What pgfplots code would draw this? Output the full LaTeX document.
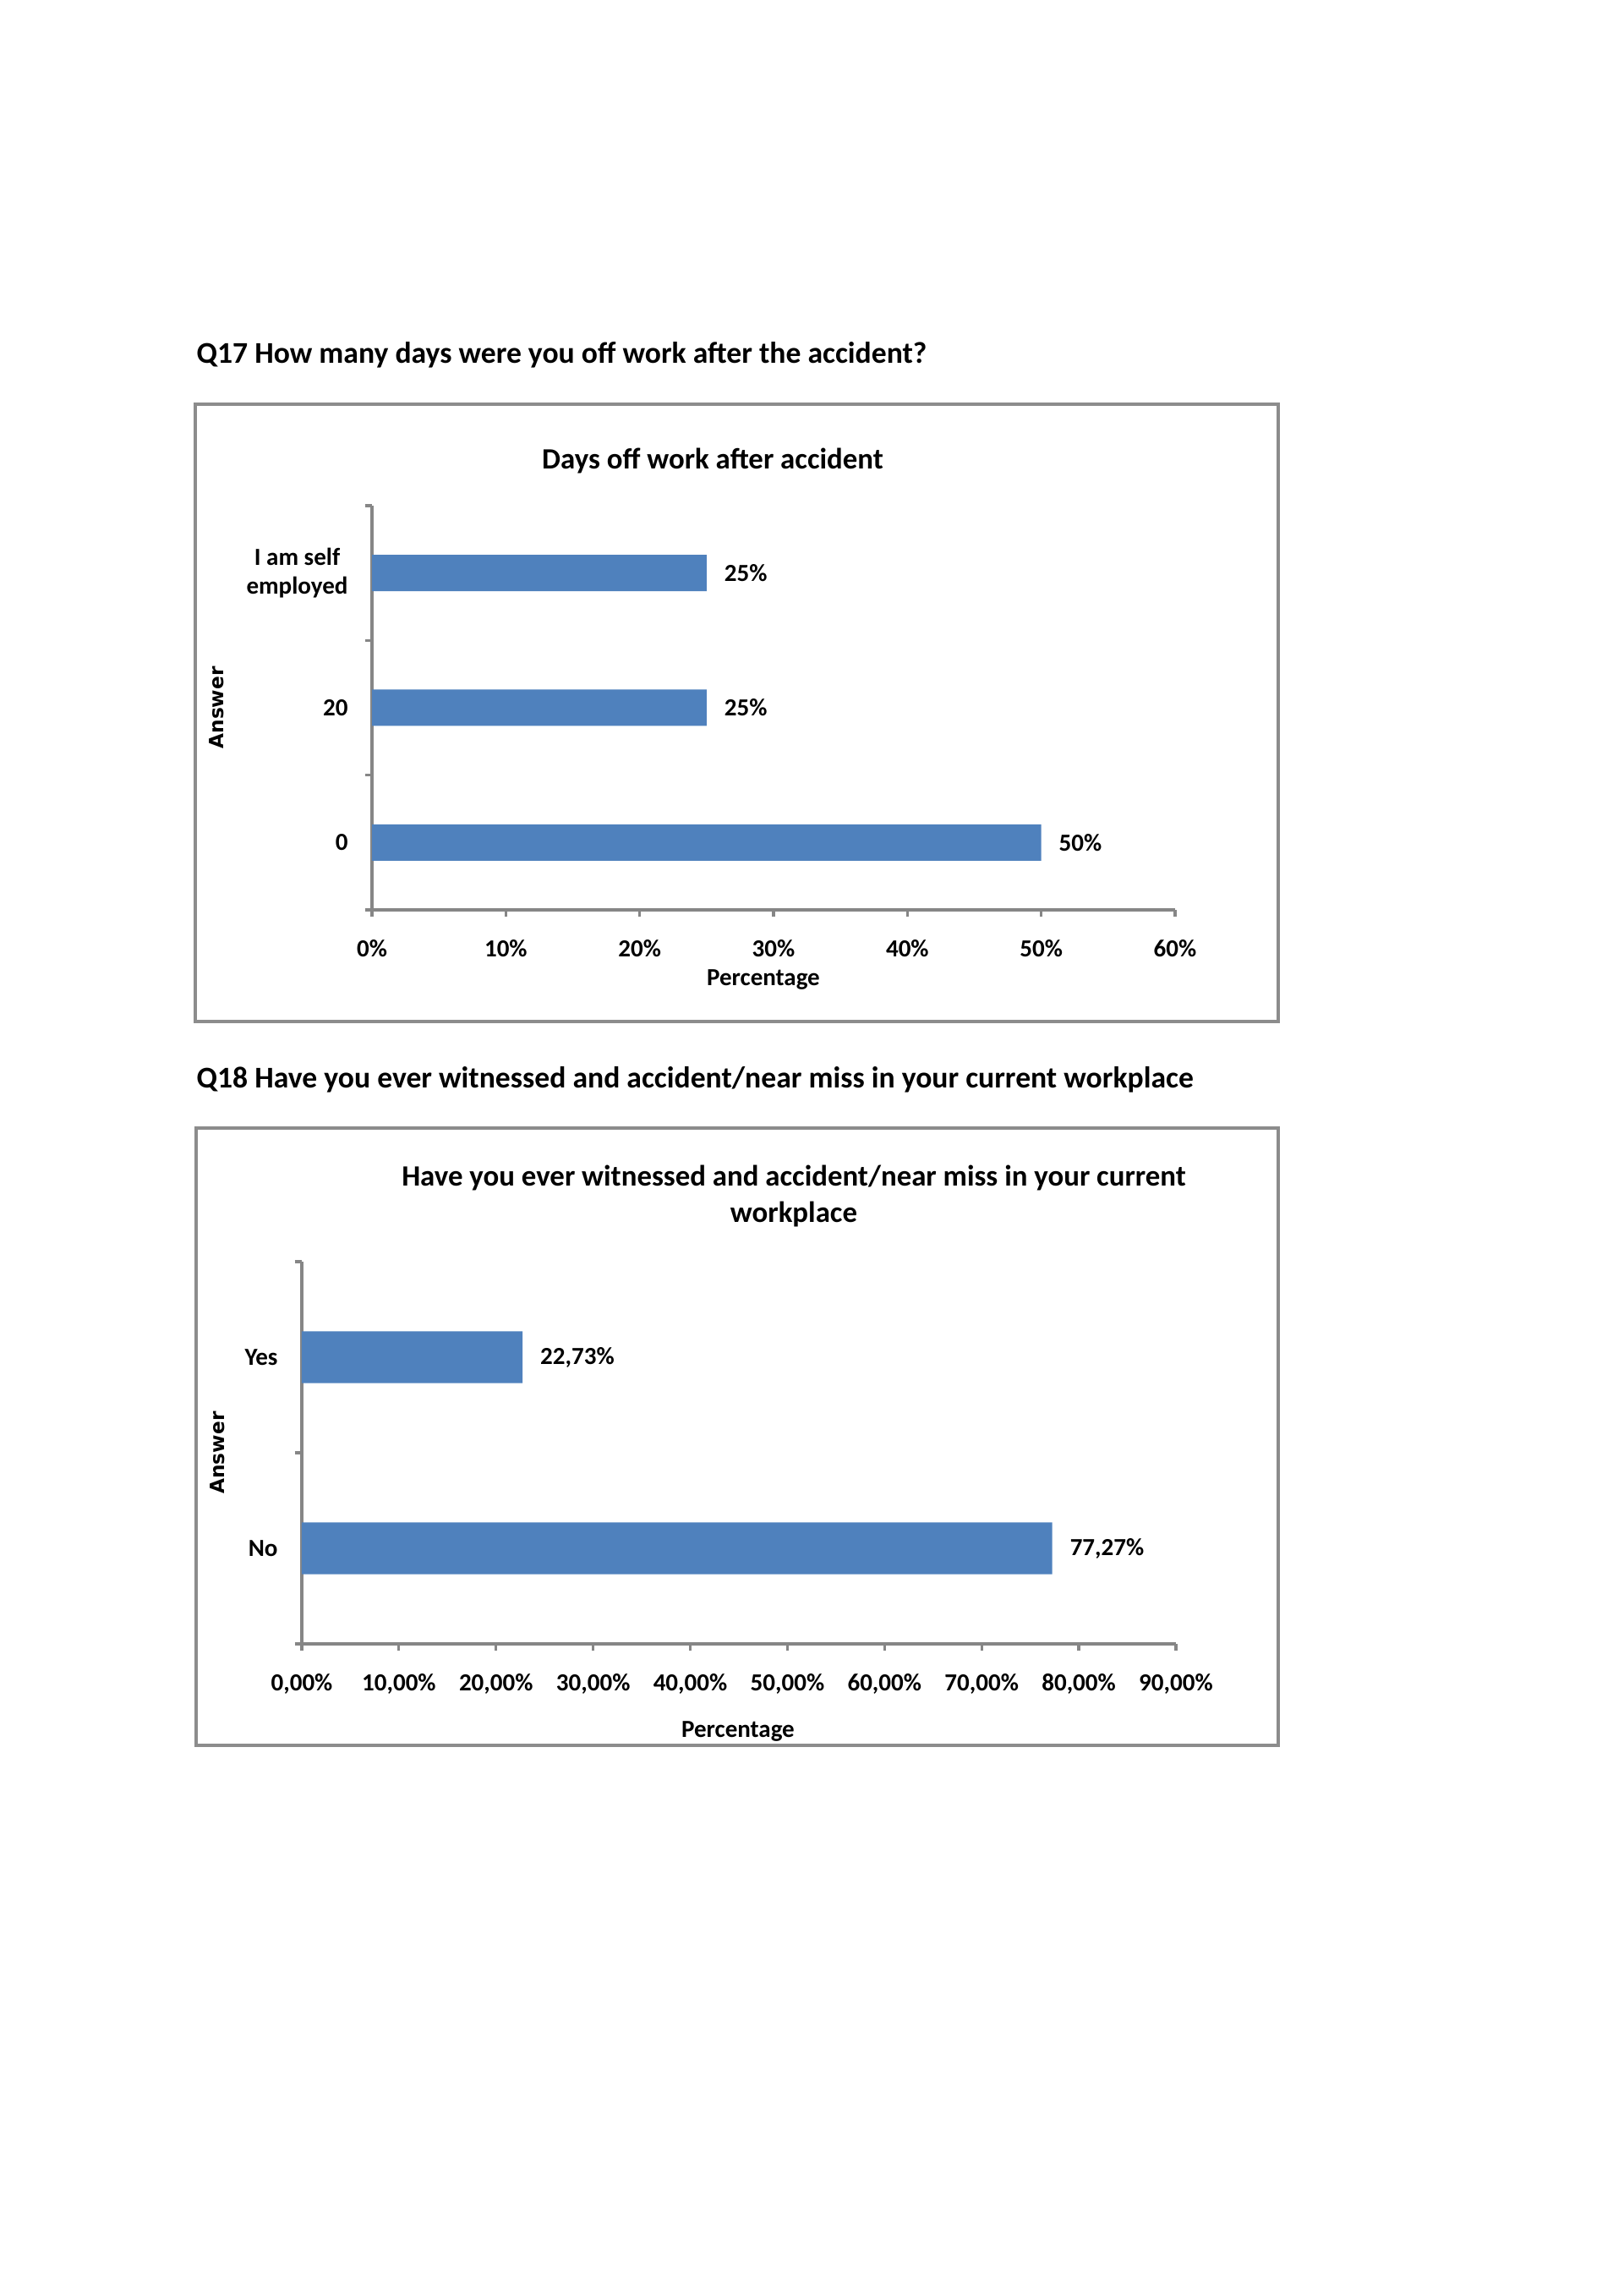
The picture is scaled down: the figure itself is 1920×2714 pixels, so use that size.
\documentclass[border=0pt]{standalone}
\usepackage{fontspec}
\setmainfont{Carlito}
\newfontfamily\dejavu{DejaVu Sans}
\usepackage{pgfplots}
\pgfplotsset{compat=1.18}
\definecolor{barblue}{RGB}{79,129,189}
\definecolor{axgray}{RGB}{134,134,134}
\definecolor{framegray}{RGB}{140,140,140}
\newcommand{\tickfont}{\fontsize{9}{10.8}\selectfont\bfseries}
\pgfplotsset{
  excelbar/.style={
    scale only axis,
    xbar, bar width=0.27,
    axis lines*=left,
    axis line style={axgray, line width=1pt},
    tick align=outside,
    major tick length=2.6pt,
    tick style={axgray, line width=1pt},
    xtick pos=left, ytick pos=left,
    ticklabel style={font=\tickfont, text=black},
    xticklabel style={yshift=-5pt},
    yticklabel style={align=center, xshift=-5.3pt},
    yticklabels={},
    extra y tick style={major tick length=0pt},
    nodes near coords,
    nodes near coords align=horizontal,
    point meta=explicit symbolic,
    every node near coord/.append style={font=\tickfont, text=black, anchor=west, xshift=3pt},
    xmin=0,
    clip=false,
  }
}
\begin{document}
\begin{tikzpicture}[x=0.3100417pt, y=-0.3100417pt]
\path[use as bounding box] (0,0) rectangle (1920,2714);

% ---------- Q17 ----------
\node[anchor=base west, inner sep=0pt, font=\fontsize{11.05}{13.2}\selectfont\bfseries] at (232,430)
  {Q17 How many days were you off work after the accident?};
\draw[framegray, line width=1pt] (231,478) rectangle (1512,1208);
\node[anchor=base, inner sep=0pt, font=\fontsize{10.8}{13}\selectfont\bfseries] at (843,555)
  {Days off work after accident};

\begin{axis}[excelbar,
  at={(136.42pt,-333.60pt)}, anchor=south west,
  width=294.54pt, height=148.20pt,
  xmax=60, ymin=-0.5, ymax=2.5,
  xtick={0,10,20,30,40,50,60},
  xticklabels={0\%,10\%,20\%,30\%,40\%,50\%,60\%},
  ytick={-0.5,0.5,1.5,2.5},
  extra y ticks={0,1,2},
  extra y tick labels={0,20,{I am self\\employed}},
]
\addplot[fill=barblue, draw=none] coordinates {
  (50,0) [50\%]
  (25,1) [25\%]
  (25,2) [25\%]
};
\end{axis}

\node[anchor=base, inner sep=0pt, font=\tickfont] at (903,1165) {Percentage};
\node[rotate=90, inner sep=0pt, font=\dejavu\fontsize{7.2}{8}\selectfont\bfseries] at (256,837) {Answer};

% ---------- Q18 ----------
\node[anchor=base west, inner sep=0pt, font=\fontsize{11.05}{13.2}\selectfont\bfseries] at (232,1286)
  {Q18 Have you ever witnessed and accident/near miss in your current workplace};
\draw[framegray, line width=1pt] (232,1334) rectangle (1512,2064);
\node[anchor=base, inner sep=0pt, font=\fontsize{10.8}{13}\selectfont\bfseries] at (939,1402)
  {Have you ever witnessed and accident/near miss in your current};
\node[anchor=base, inner sep=0pt, font=\fontsize{10.8}{13}\selectfont\bfseries] at (939,1445)
  {workplace};

\begin{axis}[excelbar,
  at={(110.68pt,-602.72pt)}, anchor=south west,
  width=320.58pt, height=140.14pt,
  xmax=90, ymin=-0.5, ymax=1.5,
  xtick={0,10,20,30,40,50,60,70,80,90},
  xticklabels={{0,00\%},{10,00\%},{20,00\%},{30,00\%},{40,00\%},{50,00\%},{60,00\%},{70,00\%},{80,00\%},{90,00\%}},
  ytick={-0.5,0.5,1.5},
  extra y ticks={0,1},
  extra y tick labels={No,Yes},
]
\addplot[fill=barblue, draw=none] coordinates {
  (77.27,0) [{77,27\%}]
  (22.73,1) [{22,73\%}]
};
\end{axis}

\node[anchor=base, inner sep=0pt, font=\tickfont] at (873,2054) {Percentage};
\node[rotate=90, inner sep=0pt, font=\dejavu\fontsize{7.2}{8}\selectfont\bfseries] at (257,1718) {Answer};
\end{tikzpicture}
\end{document}
